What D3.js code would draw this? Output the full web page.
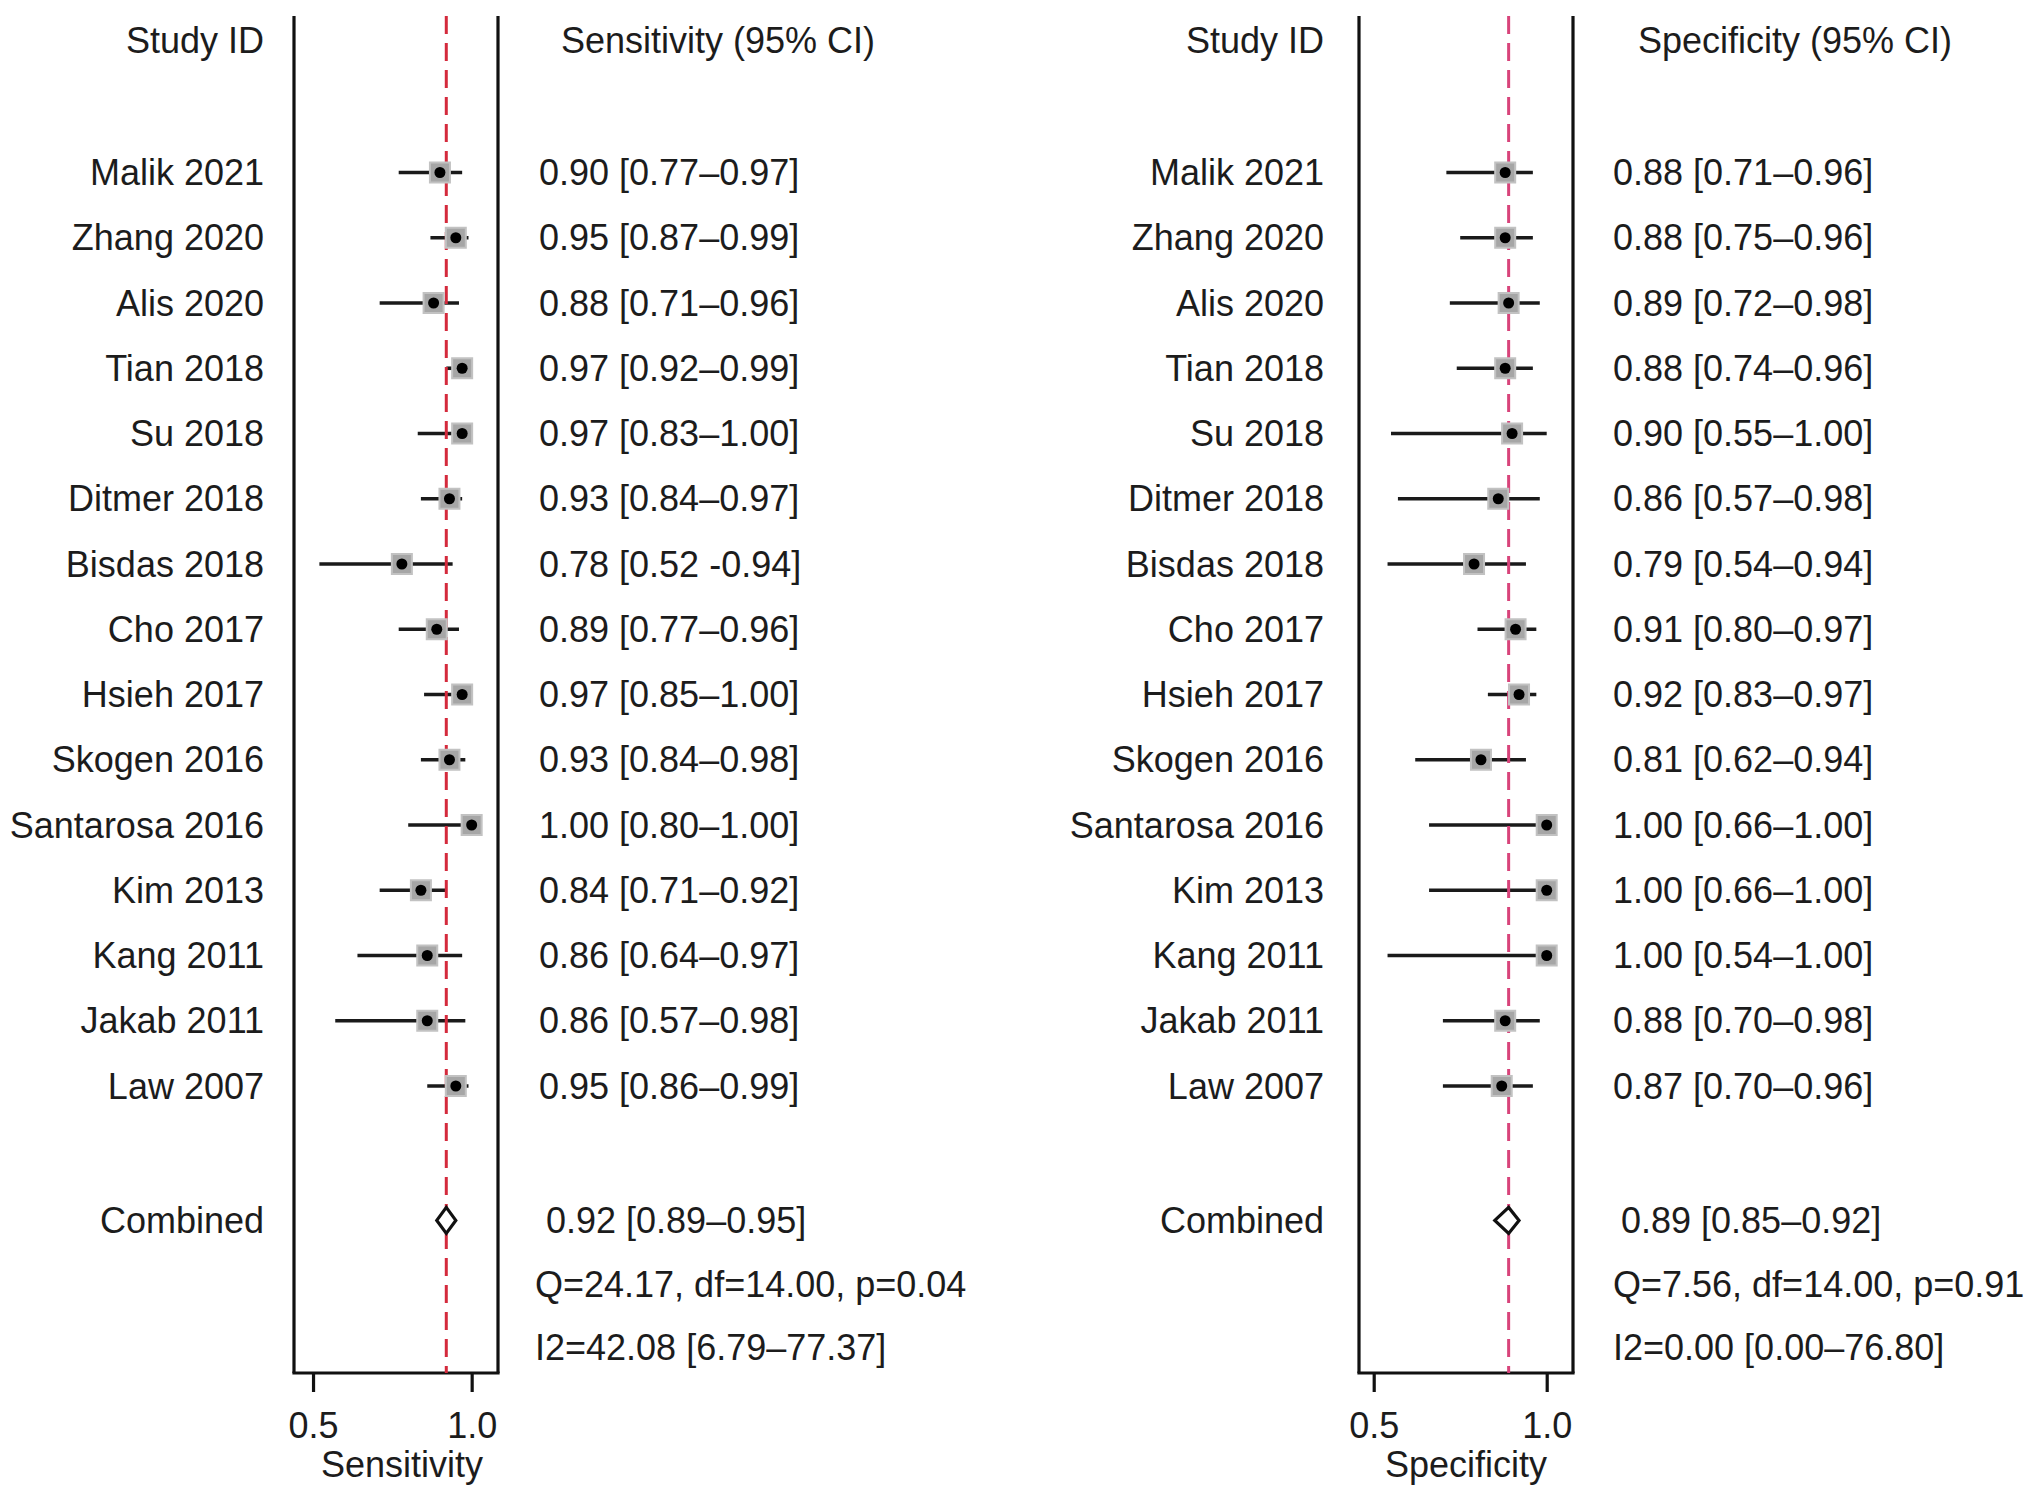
<!DOCTYPE html>
<html>
<head>
<meta charset="utf-8">
<script src="https://cdn.jsdelivr.net/npm/d3@7"></script>
<style>
  body { margin: 0; background: #fff; }
  text { font-family: "Liberation Sans", Arial, sans-serif; fill: #1c1c1c; }
</style>
</head>
<body>
<div id="chart"></div>
<script>
// Data
var studies = ["Malik 2021", "Zhang 2020", "Alis 2020", "Tian 2018", "Su 2018", "Ditmer 2018",
  "Bisdas 2018", "Cho 2017", "Hsieh 2017", "Skogen 2016", "Santarosa 2016", "Kim 2013",
  "Kang 2011", "Jakab 2011", "Law 2007"];

var sensEst = [0.90, 0.95, 0.88, 0.97, 0.97, 0.93, 0.78, 0.89, 0.97, 0.93, 1.00, 0.84, 0.86, 0.86, 0.95];
var sensLo  = [0.77, 0.87, 0.71, 0.92, 0.83, 0.84, 0.52, 0.77, 0.85, 0.84, 0.80, 0.71, 0.64, 0.57, 0.86];
var sensHi  = [0.97, 0.99, 0.96, 0.99, 1.00, 0.97, 0.94, 0.96, 1.00, 0.98, 1.00, 0.92, 0.97, 0.98, 0.99];
var sensText = ["0.90 [0.77–0.97]", "0.95 [0.87–0.99]", "0.88 [0.71–0.96]", "0.97 [0.92–0.99]",
  "0.97 [0.83–1.00]", "0.93 [0.84–0.97]", "0.78 [0.52 -0.94]", "0.89 [0.77–0.96]",
  "0.97 [0.85–1.00]", "0.93 [0.84–0.98]", "1.00 [0.80–1.00]", "0.84 [0.71–0.92]",
  "0.86 [0.64–0.97]", "0.86 [0.57–0.98]", "0.95 [0.86–0.99]"];
var sensPooled = [0.92, 0.89, 0.95];
var sensPooledText = "0.92 [0.89–0.95]";
var sensStats = ["Q=24.17, df=14.00, p=0.04", "I2=42.08 [6.79–77.37]"];

var specEst = [0.88, 0.88, 0.89, 0.88, 0.90, 0.86, 0.79, 0.91, 0.92, 0.81, 1.00, 1.00, 1.00, 0.88, 0.87];
var specLo  = [0.71, 0.75, 0.72, 0.74, 0.55, 0.57, 0.54, 0.80, 0.83, 0.62, 0.66, 0.66, 0.54, 0.70, 0.70];
var specHi  = [0.96, 0.96, 0.98, 0.96, 1.00, 0.98, 0.94, 0.97, 0.97, 0.94, 1.00, 1.00, 1.00, 0.98, 0.96];
var specText = ["0.88 [0.71–0.96]", "0.88 [0.75–0.96]", "0.89 [0.72–0.98]", "0.88 [0.74–0.96]",
  "0.90 [0.55–1.00]", "0.86 [0.57–0.98]", "0.79 [0.54–0.94]", "0.91 [0.80–0.97]",
  "0.92 [0.83–0.97]", "0.81 [0.62–0.94]", "1.00 [0.66–1.00]", "1.00 [0.66–1.00]",
  "1.00 [0.54–1.00]", "0.88 [0.70–0.98]", "0.87 [0.70–0.96]"];
var specPooled = [0.89, 0.85, 0.92];
var specPooledText = "0.89 [0.85–0.92]";
var specStats = ["Q=7.56, df=14.00, p=0.91", "I2=0.00 [0.00–76.80]"];

var tickValues = [0.5, 1.0];

var svgWidth = 2032;
var svgHeight = 1497;

var svg = d3.select("#chart")
  .append("svg")
  .attr("width", svgWidth)
  .attr("height", svgHeight);

// rows: studies 0..14, combined ~16, stats ~17 and 18
var yRow = d3.scaleLinear().domain([0, 14]).range([172.5, 1086]);
var pooledRow = 16.06;
var statRows = [17.04, 18];
var headerY = 40;
var frameTop = 16, frameBottom = 1373;
var fontSize = 36;

var panels = [
  {
    est: sensEst, lo: sensLo, hi: sensHi, text: sensText,
    pooled: sensPooled, pooledText: sensPooledText, stats: sensStats,
    header: "Sensitivity (95% CI)", axisTitle: "Sensitivity",
    domain: [0.44, 1.083], range: [294, 498],
    labelX: 264, textX: 539, pooledX: 546, statsX: 535, headerX: 561, titleX: 402,
    refColor: "#d42a3c"
  },
  {
    est: specEst, lo: specLo, hi: specHi, text: specText,
    pooled: specPooled, pooledText: specPooledText, stats: specStats,
    header: "Specificity (95% CI)", axisTitle: "Specificity",
    domain: [0.4575, 1.076], range: [1359, 1573],
    labelX: 1324, textX: 1613, pooledX: 1621, statsX: 1613, headerX: 1638, titleX: 1466,
    refColor: "#d8437a"
  }
];

panels.forEach(function(p) {
  var g = svg.append("g");
  var x = d3.scaleLinear().domain(p.domain).range(p.range);

  // Column headers
  g.append("text")
    .attr("x", p.labelX)
    .attr("y", headerY)
    .attr("dy", "0.35em")
    .attr("text-anchor", "end")
    .style("font-size", fontSize + "px")
    .text("Study ID");

  g.append("text")
    .attr("x", p.headerX)
    .attr("y", headerY)
    .attr("dy", "0.35em")
    .style("font-size", fontSize + "px")
    .text(p.header);

  // Study labels
  g.selectAll(".study")
    .data(studies)
    .enter()
    .append("text")
    .attr("x", p.labelX)
    .attr("y", (d, i) => yRow(i))
    .attr("dy", "0.35em")
    .attr("text-anchor", "end")
    .style("font-size", fontSize + "px")
    .text(d => d);

  g.append("text")
    .attr("x", p.labelX)
    .attr("y", yRow(pooledRow))
    .attr("dy", "0.35em")
    .attr("text-anchor", "end")
    .style("font-size", fontSize + "px")
    .text("Combined");

  // Estimate text column
  g.selectAll(".val")
    .data(p.text)
    .enter()
    .append("text")
    .attr("x", p.textX)
    .attr("y", (d, i) => yRow(i))
    .attr("dy", "0.35em")
    .style("font-size", fontSize + "px")
    .text(d => d);

  g.append("text")
    .attr("x", p.pooledX)
    .attr("y", yRow(pooledRow))
    .attr("dy", "0.35em")
    .style("font-size", fontSize + "px")
    .text(p.pooledText);

  g.selectAll(".stat")
    .data(p.stats)
    .enter()
    .append("text")
    .attr("x", p.statsX)
    .attr("y", (d, i) => yRow(statRows[i]))
    .attr("dy", "0.35em")
    .style("font-size", fontSize + "px")
    .text(d => d);

  // Side frame lines
  g.append("path")
    .attr("d", `M${p.range[0]},${frameTop}V${frameBottom}M${p.range[1]},${frameTop}V${frameBottom}`)
    .attr("stroke", "#111")
    .attr("stroke-width", 3.2)
    .attr("fill", "none");

  // Bottom axis
  var axis = g.append("g")
    .attr("transform", `translate(0, ${frameBottom})`)
    .call(d3.axisBottom(x).tickValues(tickValues).tickFormat(d3.format(".1f"))
      .tickSize(19).tickSizeOuter(0).tickPadding(20));
  axis.select(".domain").attr("stroke", "#111").attr("stroke-width", 3.2)
    .attr("d", `M${p.range[0] - 1.6},0H${p.range[1] + 1.6}`);
  axis.selectAll(".tick line").attr("stroke", "#111").attr("stroke-width", 3.2);
  axis.selectAll(".tick text")
    .attr("fill", "#1c1c1c")
    .style("font-size", fontSize + "px")
    .style("font-family", "'Liberation Sans', Arial, sans-serif");

  g.append("text")
    .attr("x", p.titleX)
    .attr("y", 1477)
    .attr("text-anchor", "middle")
    .style("font-size", fontSize + "px")
    .text(p.axisTitle);

  // CI lines
  g.selectAll(".ci")
    .data(p.est)
    .enter()
    .append("line")
    .attr("x1", (d, i) => x(p.lo[i]))
    .attr("x2", (d, i) => x(p.hi[i]))
    .attr("y1", (d, i) => yRow(i))
    .attr("y2", (d, i) => yRow(i))
    .attr("stroke", "#1a1a1a")
    .attr("stroke-width", 3.6);

  // Reference line at pooled estimate
  g.append("line")
    .attr("x1", x(p.pooled[0]))
    .attr("x2", x(p.pooled[0]))
    .attr("y1", frameTop)
    .attr("y2", frameBottom)
    .attr("stroke", p.refColor)
    .attr("stroke-width", 3)
    .attr("stroke-dasharray", "18,9");

  // Squares with black dots
  var sq = 20;
  g.selectAll(".sq")
    .data(p.est)
    .enter()
    .append("rect")
    .attr("x", d => x(d) - sq / 2)
    .attr("y", (d, i) => yRow(i) - sq / 2)
    .attr("width", sq)
    .attr("height", sq)
    .attr("fill", "#a6a6a6")
    .attr("stroke", "#c2c2c2")
    .attr("stroke-width", 2);

  g.selectAll(".dot")
    .data(p.est)
    .enter()
    .append("circle")
    .attr("cx", d => x(d))
    .attr("cy", (d, i) => yRow(i))
    .attr("r", 5.5)
    .attr("fill", "#000");

  // Pooled diamond
  var yc = yRow(pooledRow);
  g.append("path")
    .attr("d", `M${x(p.pooled[1])},${yc}L${x(p.pooled[0])},${yc - 13}L${x(p.pooled[2])},${yc}L${x(p.pooled[0])},${yc + 13}Z`)
    .attr("fill", "#fff")
    .attr("stroke", "#111")
    .attr("stroke-width", 3.2);
});
</script>
</body>
</html>
